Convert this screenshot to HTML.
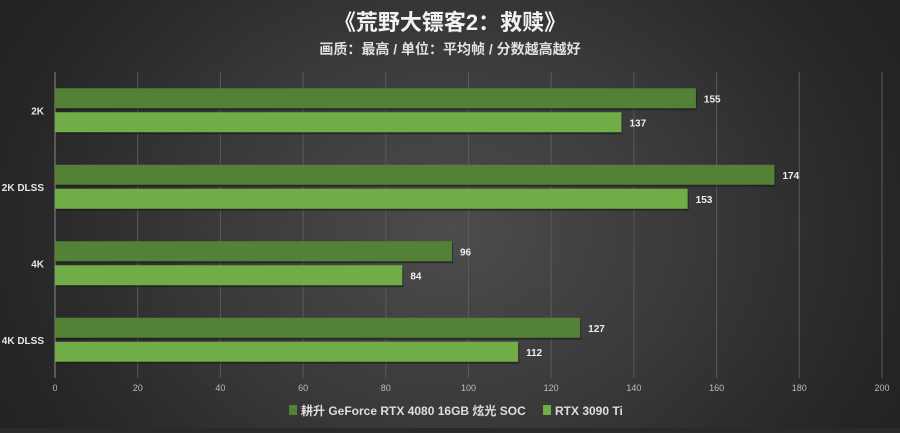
<!DOCTYPE html>
<html><head><meta charset="utf-8"><style>
body{margin:0;width:900px;height:428px;overflow:hidden;background:#2a2a2a}
#c{position:absolute;left:0;top:0;width:900px;height:428px;background:radial-gradient(ellipse 520px 420px at 450px 230px,#4c4c4c 0%,#3a3a3a 45%,#262626 85%,#222 100%)}
text{font-family:"Liberation Sans","Noto Sans CJK SC",sans-serif}
</style></head><body>
<div id="c">
<svg id="s" width="900" height="428">
<text x="450" y="30" text-anchor="middle" font-size="22" font-weight="bold" fill="#f2f2f2">《荒野大镖客2：救赎》</text>
<text x="450" y="54" text-anchor="middle" font-size="14" font-weight="bold" fill="#e0e0e0">画质：最高 / 单位：平均帧 / 分数越高越好</text>
<g id="grid"></g><g id="bars"></g>
<g>
<rect x="289" y="405" width="8" height="10" fill="#538135"/>
<text x="301" y="415" font-size="12" font-weight="bold" fill="#ddd">耕升 GeForce RTX 4080 16GB 炫光 SOC</text>
<rect x="543" y="405" width="8" height="10" fill="#70ad47"/>
<text x="555" y="415" font-size="12" font-weight="bold" fill="#ddd">RTX 3090 Ti</text>
</g>
</svg></div>
<script>
const categories=["2K","2K DLSS","4K","4K DLSS"];
const series4080=[155,174,96,127];
const series3090=[137,153,84,112];
const ticks=[0,20,40,60,80,100,120,140,160,180,200];
const NS="http://www.w3.org/2000/svg";
const x0=55,x1=882,plotTop=72,plotBot=378;
const xs=v=>x0+(v-0)/(200-0)*(x1-x0);
const band=(plotBot-plotTop)/categories.length;
const grid=document.getElementById('grid'),bars=document.getElementById('bars');
function mk(t,a,p){const e=document.createElementNS(NS,t);for(const k in a)e.setAttribute(k,a[k]);p.appendChild(e);return e;}
ticks.forEach(t=>{
 const l=mk('line',{x1:xs(t),x2:xs(t),y1:plotTop,y2:plotBot,stroke:t===0?'#888':'#5a5a5a','stroke-width':1},grid);
 
 
 const tx=mk('text',{x:xs(t),y:391,'text-anchor':'middle','font-size':9,fill:'#bbb'},grid);
 tx.textContent=t;
 
 
});
categories.forEach((c,i)=>{
 const cy=plotTop+band*(i+0.5);
 const lb=mk('text',{x:44,y:cy+4,'text-anchor':'end','font-size':10,'font-weight':'bold',fill:'#e6e6e6'},bars);
 lb.textContent=c;
 
 
 [[series4080,'#538135',-22],[series3090,'#70ad47',2]].forEach(([s,col,off],j)=>{
  const y=cy+off,h=20;
  mk('rect',{x:x0+1,y:y+2,width:xs(s[i])-x0,height:h,fill:'#1a1a1a',opacity:0.6},bars);
  const r=mk('rect',{x:x0,y:y,width:xs(s[i])-x0,height:h,fill:col},bars);
  
  
  const v=mk('text',{x:xs(s[i])+8,y:y+14,'font-size':10,'font-weight':'bold',fill:'#eee'},bars);
  v.textContent=s[i];
  
  
 });
});
</script>
</body></html>
